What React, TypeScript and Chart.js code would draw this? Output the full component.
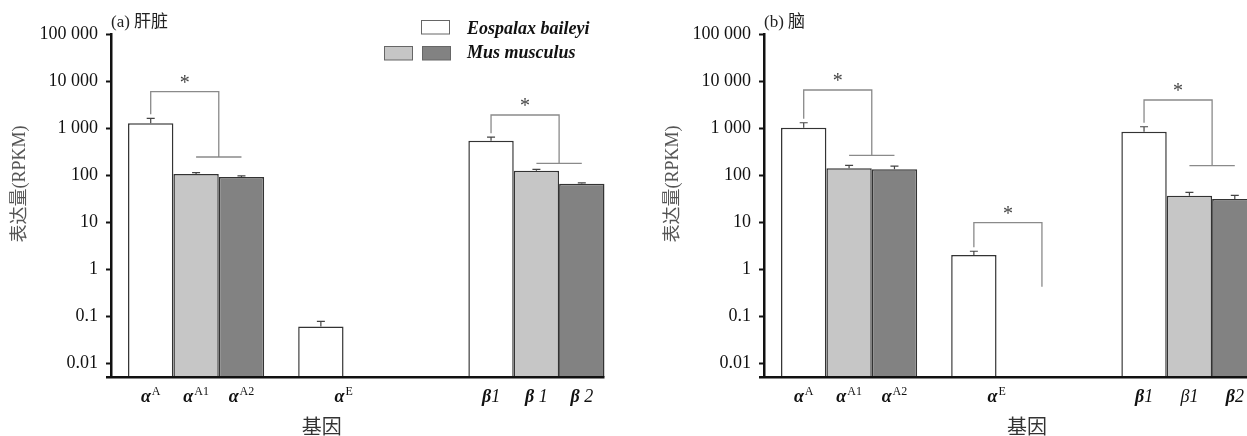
import React, { useEffect, useRef } from 'react';
import { Chart, registerables } from 'chart.js';

Chart.register(...registerables);

// ---------- data ----------
const geneGroups = ['αA', 'αE', 'β'];
const yTickValues = [100000, 10000, 1000, 100, 10, 1, 0.1, 0.01];
const yTickLabels = ['100 000', '10 000', '1 000', '100', '10', '1', '0.1', '0.01'];
const speciesLabels = ['Eospalax baileyi', 'Mus musculus'];

// per-bar tick labels (in bar order): glyph, superscript, suffix
const tickGlyph = ['α', 'α', 'α', 'α', 'β', 'β', 'β'];
const tickSup = ['A', 'A1', 'A2', 'E', '', '', ''];
const liverTickSuffix = ['', '', '', '', '1', ' 1', ' 2'];
const brainTickSuffix = ['', '', '', '', '1', '1', '2'];
const liverTickBold = [true, true, true, true, true, true, true];
const brainTickBold = [true, true, true, true, true, false, true];

// Panel (a) liver
const liverEospalax = [1260, 0.06, 538];
const liverEospalaxErr = [350, 0.017, 100];
const liverMus1 = [105, null, 124];
const liverMus1Err = [8, null, 8];
const liverMus2 = [91, null, 65];
const liverMus2Err = [5, null, 3];
const liverBracketTop = [5930, null, 1894];
const liverBracketBottom = [242, null, 178];
const liverBracketLine = [true, false, true];

// Panel (b) brain
const brainEospalax = [1017, 2.0, 836];
const brainEospalaxErr = [280, 0.4, 230];
const brainMus1 = [139, null, 36.4];
const brainMus1Err = [22, null, 6.5];
const brainMus2 = [133, null, 31];
const brainMus2Err = [22, null, 6];
const brainBracketTop = [6440, 9.7, 3950];
const brainBracketBottom = [263, 0.42, 158];
const brainBracketLine = [true, false, true];

const SERIF = '"Liberation Serif", "Noto Sans CJK SC", serif';
const BAR_COLORS = ['#ffffff', '#c6c6c6', '#828282'];

type PanelCfg = {
  title: string;
  values: (number | null)[][];
  errors: (number | null)[][];
  bracketTop: (number | null)[];
  bracketBottom: (number | null)[];
  bracketLine: boolean[];
  tickSuffix: string[];
  tickBold: boolean[];
  xTitleFrac: number;
  showLegend: boolean;
};

const liverPanel: PanelCfg = {
  title: '(a) 肝脏',
  values: [liverEospalax, liverMus1, liverMus2],
  errors: [liverEospalaxErr, liverMus1Err, liverMus2Err],
  bracketTop: liverBracketTop,
  bracketBottom: liverBracketBottom,
  bracketLine: liverBracketLine,
  tickSuffix: liverTickSuffix,
  tickBold: liverTickBold,
  xTitleFrac: 0.413,
  showLegend: true,
};

const brainPanel: PanelCfg = {
  title: '(b) 脑',
  values: [brainEospalax, brainMus1, brainMus2],
  errors: [brainEospalaxErr, brainMus1Err, brainMus2Err],
  bracketTop: brainBracketTop,
  bracketBottom: brainBracketBottom,
  bracketLine: brainBracketLine,
  tickSuffix: brainTickSuffix,
  tickBold: brainTickBold,
  xTitleFrac: 0.515,
  showLegend: false,
};

const overlayPlugin = {
  id: 'overlay',
  afterDatasetsDraw(chart: any, _args: any, opts: any) {
    const p: PanelCfg = opts.panel;
    const ctx = chart.ctx as CanvasRenderingContext2D;
    const xs = chart.scales.x;
    const ys = chart.scales.y;
    const area = chart.chartArea;
    ctx.save();

    // error bars
    p.values.forEach((vals, di) => {
      const meta = chart.getDatasetMeta(di);
      vals.forEach((v, gi) => {
        const e = p.errors[di][gi];
        if (v == null || e == null) return;
        const el = meta.data[gi];
        const yTop = ys.getPixelForValue(v + e);
        ctx.strokeStyle = '#444';
        ctx.lineWidth = 1.2;
        ctx.beginPath();
        ctx.moveTo(el.x, el.y);
        ctx.lineTo(el.x, yTop);
        ctx.moveTo(el.x - 4, yTop);
        ctx.lineTo(el.x + 4, yTop);
        ctx.stroke();
      });
    });

    // x axis line (to last bar)
    const lastMeta = chart.getDatasetMeta(2);
    const lastEl = lastMeta.data[lastMeta.data.length - 1];
    const xEnd = lastEl.x + lastEl.width / 2;
    ctx.strokeStyle = '#111';
    ctx.lineWidth = 2.5;
    ctx.beginPath();
    ctx.moveTo(area.left - 5, area.bottom);
    ctx.lineTo(xEnd, area.bottom);
    ctx.stroke();

    // significance brackets
    p.bracketTop.forEach((top, gi) => {
      if (top == null) return;
      const bottom = p.bracketBottom[gi] as number;
      const e0 = chart.getDatasetMeta(0).data[gi];
      const bw = e0.width;
      const cx = xs.getPixelForValue(gi);
      const left = e0.x;
      const right = cx + bw / 2;
      const yT = ys.getPixelForValue(top);
      const v0 = p.values[0][gi] as number;
      const err0 = (p.errors[0][gi] as number) || 0;
      const errTop = ys.getPixelForValue(v0 + err0);
      const yB = ys.getPixelForValue(bottom);
      ctx.strokeStyle = '#8a8a8a';
      ctx.lineWidth = 1.3;
      ctx.beginPath();
      ctx.moveTo(left, errTop - 4);
      ctx.lineTo(left, yT);
      ctx.lineTo(right, yT);
      ctx.lineTo(right, yB);
      if (p.bracketLine[gi]) {
        ctx.moveTo(cx, yB);
        ctx.lineTo(cx + bw, yB);
      }
      ctx.stroke();
      ctx.fillStyle = '#444';
      ctx.font = `20px ${SERIF}`;
      ctx.textAlign = 'center';
      ctx.textBaseline = 'alphabetic';
      ctx.fillText('*', (left + right) / 2, yT - 3);
    });

    // x tick labels
    let k = 0;
    const baseY = 402;
    geneGroups.forEach((_g, gi) => {
      p.values.forEach((vals, di) => {
        if (vals[gi] == null) return;
        const el = chart.getDatasetMeta(di).data[gi];
        const isE = gi === 1;
        const x = isE ? el.x + el.width / 2 : el.x;
        const bold = p.tickBold[k];
        const gFont = `italic ${bold ? 'bold ' : ''}18px ${SERIF}`;
        const sFont = `12px ${SERIF}`;
        const sufFont = `italic 18px ${SERIF}`;
        ctx.font = gFont;
        const w1 = ctx.measureText(tickGlyph[k]).width;
        ctx.font = sFont;
        const w2 = tickSup[k] ? ctx.measureText(tickSup[k]).width + 1 : 0;
        ctx.font = sufFont;
        const w3 = p.tickSuffix[k] ? ctx.measureText(p.tickSuffix[k]).width : 0;
        let sx = x - (w1 + w2 + w3) / 2;
        ctx.fillStyle = '#111';
        ctx.textAlign = 'left';
        ctx.textBaseline = 'alphabetic';
        ctx.font = gFont;
        ctx.fillText(tickGlyph[k], sx, baseY);
        sx += w1;
        if (tickSup[k]) {
          ctx.font = sFont;
          ctx.fillText(tickSup[k], sx + 1, baseY - 7);
          sx += w2;
        }
        if (p.tickSuffix[k]) {
          ctx.font = sufFont;
          ctx.fillText(p.tickSuffix[k], sx, baseY);
        }
        k++;
      });
    });
    ctx.restore();
  },
  afterDraw(chart: any, _args: any, opts: any) {
    const p: PanelCfg = opts.panel;
    const ctx = chart.ctx as CanvasRenderingContext2D;
    const area = chart.chartArea;
    ctx.save();
    // panel title
    ctx.fillStyle = '#222';
    ctx.font = `17px ${SERIF}`;
    ctx.textAlign = 'left';
    ctx.textBaseline = 'middle';
    ctx.fillText(p.title, area.left, 23);

    // y axis title
    ctx.save();
    ctx.translate(20, 184);
    ctx.rotate(-Math.PI / 2);
    ctx.fillStyle = '#555';
    ctx.font = `18px ${SERIF}`;
    ctx.textAlign = 'center';
    ctx.textBaseline = 'middle';
    ctx.fillText('表达量(RPKM)', 0, 0);
    ctx.restore();

    // x axis title
    ctx.fillStyle = '#333';
    ctx.font = `20px "Noto Sans CJK SC", sans-serif`;
    ctx.textAlign = 'center';
    ctx.textBaseline = 'middle';
    ctx.fillText('基因', area.left + p.xTitleFrac * (area.right - area.left), 426);

    // legend
    if (p.showLegend) {
      ctx.lineWidth = 1;
      ctx.strokeStyle = '#666';
      const boxes = [
        [421, 20, BAR_COLORS[0]],
        [384, 46, BAR_COLORS[1]],
        [422, 46, BAR_COLORS[2]],
      ] as [number, number, string][];
      boxes.forEach(([bx, by, c]) => {
        ctx.fillStyle = c;
        ctx.fillRect(bx, by, 28.5, 14);
        ctx.strokeRect(bx + 0.5, by + 0.5, 28, 13.5);
      });
      ctx.fillStyle = '#111';
      ctx.font = `italic bold 18px ${SERIF}`;
      ctx.textAlign = 'left';
      ctx.textBaseline = 'middle';
      ctx.fillText(speciesLabels[0], 467, 29);
      ctx.fillText(speciesLabels[1], 467, 53);
    }
    ctx.restore();
  },
};

function Panel({ cfg, left }: { cfg: PanelCfg; left: number }) {
  const ref = useRef<HTMLCanvasElement | null>(null);
  useEffect(() => {
    if (!ref.current) return;
    const chart = new Chart(ref.current, {
      type: 'bar',
      data: {
        labels: geneGroups,
        datasets: cfg.values.map((vals, i) => ({
          label: i === 0 ? speciesLabels[0] : speciesLabels[1],
          data: vals as any,
          backgroundColor: BAR_COLORS[i],
          borderColor: '#333',
          borderWidth: 1.5,
          categoryPercentage: 0.8,
          barPercentage: 1.0,
        })),
      },
      options: {
        responsive: false,
        animation: false,
        devicePixelRatio: 1,
        layout: { padding: { top: 34, right: 3.5, left: 0, bottom: 0 } },
        plugins: {
          legend: { display: false },
          tooltip: { enabled: false },
          overlay: { panel: cfg },
        } as any,
        scales: {
          x: {
            type: 'category',
            offset: true,
            grid: { display: false, drawTicks: false },
            border: { display: false },
            ticks: { display: false },
            afterFit: (s: any) => {
              s.height = 436 - 377.3;
            },
          },
          y: {
            type: 'logarithmic',
            min: 0.005,
            max: 100000,
            bounds: 'data',
            afterFit: (s: any) => {
              s.width = 111;
            },
            afterBuildTicks: (s: any) => {
              s.ticks = yTickValues.map((v) => ({ value: v }));
            },
            ticks: {
              autoSkip: false,
              padding: 8,
              color: '#111',
              font: { family: SERIF, size: 18 },
              callback: (v: any) => {
                const i = yTickValues.indexOf(Number(v));
                return i >= 0 ? yTickLabels[i] : '';
              },
            },
            grid: {
              drawOnChartArea: false,
              drawTicks: true,
              tickLength: 5,
              tickWidth: 2,
              tickColor: '#111',
            },
            border: { display: true, color: '#111', width: 2.5 },
          },
        } as any,
      },
      plugins: [overlayPlugin],
    });
    return () => chart.destroy();
  }, [cfg]);
  return (
    <canvas
      ref={ref}
      width={625}
      height={436}
      style={{ position: 'absolute', left, top: 0, width: 625, height: 436 }}
    />
  );
}

export default function App() {
  return (
    <div
      style={{
        position: 'absolute',
        left: 0,
        top: 0,
        width: 1247,
        height: 436,
        overflow: 'hidden',
        background: '#fff',
      }}
    >
      <Panel cfg={liverPanel} left={0} />
      <Panel cfg={brainPanel} left={653} />
    </div>
  );
}
